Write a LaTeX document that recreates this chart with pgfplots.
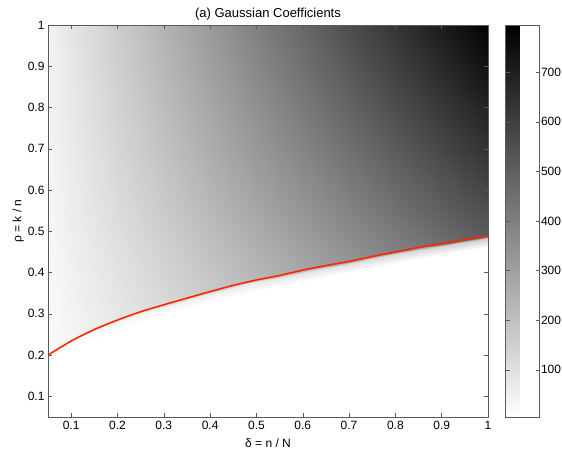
\documentclass[border=0pt]{standalone}
\usepackage{pgfplots}
\pgfplotsset{compat=1.18}
\usepackage{pgfplotstable}
\usepackage{fontspec}
\setmainfont{Liberation Sans}
\definecolor{curvered}{RGB}{250,40,0}
\definecolor{axgray}{RGB}{90,90,90}

\pgfplotstableread{
d r v
0.05 0.05 5
0.10 0.05 5
0.15 0.05 5
0.20 0.05 5
0.25 0.05 5
0.30 0.05 5
0.35 0.05 5
0.40 0.05 5
0.45 0.05 5
0.50 0.05 5
0.55 0.05 5
0.60 0.05 5
0.65 0.05 5
0.70 0.05 5
0.75 0.05 5
0.80 0.05 5
0.85 0.05 5
0.90 0.05 5
0.95 0.05 5
1.00 0.05 5

0.05 0.172 5
0.10 0.206 5
0.15 0.234 5
0.20 0.257 5
0.25 0.277 5
0.30 0.294 5
0.35 0.310 5
0.40 0.326 5
0.45 0.341 5
0.50 0.354 5
0.55 0.365 5
0.60 0.378 5
0.65 0.389 5
0.70 0.399 5
0.75 0.411 5
0.80 0.422 5
0.85 0.433 5
0.90 0.442 5
0.95 0.452 5
1.00 0.461 5

0.05 0.194 10
0.10 0.228 15
0.15 0.256 21
0.20 0.279 27
0.25 0.299 34
0.30 0.316 41
0.35 0.332 48
0.40 0.348 55
0.45 0.363 63
0.50 0.376 71
0.55 0.387 79
0.60 0.400 87
0.65 0.411 96
0.70 0.421 104
0.75 0.433 113
0.80 0.444 122
0.85 0.455 131
0.90 0.464 140
0.95 0.474 149
1.00 0.483 158

0.05 0.200 20
0.10 0.234 38
0.15 0.262 58
0.20 0.285 79
0.25 0.305 101
0.30 0.322 124
0.35 0.338 148
0.40 0.354 173
0.45 0.369 199
0.50 0.382 225
0.55 0.393 252
0.60 0.406 279
0.65 0.417 307
0.70 0.427 335
0.75 0.439 364
0.80 0.450 394
0.85 0.461 424
0.90 0.470 454
0.95 0.480 485
1.00 0.489 516

0.05 0.55 32
0.10 0.55 60
0.15 0.55 87
0.20 0.55 115
0.25 0.55 142
0.30 0.55 170
0.35 0.55 197
0.40 0.55 224
0.45 0.55 252
0.50 0.55 279
0.55 0.55 307
0.60 0.55 334
0.65 0.55 361
0.70 0.55 389
0.75 0.55 416
0.80 0.55 444
0.85 0.55 471
0.90 0.55 499
0.95 0.55 526
1.00 0.55 553

0.05 0.70 37
0.10 0.70 68
0.15 0.70 100
0.20 0.70 132
0.25 0.70 163
0.30 0.70 195
0.35 0.70 227
0.40 0.70 259
0.45 0.70 290
0.50 0.70 322
0.55 0.70 354
0.60 0.70 385
0.65 0.70 417
0.70 0.70 449
0.75 0.70 480
0.80 0.70 512
0.85 0.70 544
0.90 0.70 575
0.95 0.70 607
1.00 0.70 639

0.05 0.85 41
0.10 0.85 76
0.15 0.85 112
0.20 0.85 147
0.25 0.85 183
0.30 0.85 219
0.35 0.85 254
0.40 0.85 290
0.45 0.85 325
0.50 0.85 361
0.55 0.85 397
0.60 0.85 432
0.65 0.85 468
0.70 0.85 503
0.75 0.85 539
0.80 0.85 575
0.85 0.85 610
0.90 0.85 646
0.95 0.85 681
1.00 0.85 717

0.05 1.00 44
0.10 1.00 84
0.15 1.00 123
0.20 1.00 162
0.25 1.00 201
0.30 1.00 241
0.35 1.00 280
0.40 1.00 319
0.45 1.00 358
0.50 1.00 398
0.55 1.00 437
0.60 1.00 476
0.65 1.00 515
0.70 1.00 555
0.75 1.00 594
0.80 1.00 633
0.85 1.00 672
0.90 1.00 712
0.95 1.00 751
1.00 1.00 790
}\surfdata

\pgfplotstableread{
d r
0.05 0.200
0.10 0.234
0.15 0.262
0.20 0.285
0.25 0.305
0.30 0.322
0.35 0.338
0.40 0.354
0.45 0.369
0.50 0.382
0.55 0.393
0.60 0.406
0.65 0.417
0.70 0.427
0.75 0.439
0.80 0.450
0.85 0.461
0.90 0.470
0.95 0.480
1.00 0.489
}\curvedata

\begin{document}
\begin{tikzpicture}
\begin{axis}[
  name=ax,
  scale only axis,
  width=440pt, height=392pt,
  xmin=0.05, xmax=1, ymin=0.05, ymax=1,
  xtick={0.1,0.2,0.3,0.4,0.5,0.6,0.7,0.8,0.9,1},
  xticklabels={0.1,0.2,0.3,0.4,0.5,0.6,0.7,0.8,0.9,1},
  ytick={0.1,0.2,0.3,0.4,0.5,0.6,0.7,0.8,0.9,1},
  yticklabels={0.1,0.2,0.3,0.4,0.5,0.6,0.7,0.8,0.9,1},
  tick align=inside,
  major tick length=4pt,
  tick style={axgray, line width=0.4pt},
  axis line style={axgray, line width=0.5pt},
  axis on top,
  /pgf/number format/assume math mode=true,
  tick label style={font=\fontsize{12}{14}\selectfont, text=black},
  label style={font=\fontsize{12}{14}\selectfont},
  title style={font=\fontsize{13}{15}\selectfont, yshift=-5pt},
  title={(a) Gaussian Coefficients},
  xlabel={δ = n / N},
  ylabel={ρ = k / n},
  xlabel style={yshift=-2pt},
  ylabel style={yshift=-3pt},
  xticklabel style={yshift=-1pt},
  colormap={gw}{color=(white) color=(black)},
  point meta min=5, point meta max=795,
  colorbar,
  colorbar style={
    at={(parent axis.north east)}, anchor=north west, xshift=9pt,
    width=34pt,
    ytick={100,200,300,400,500,600,700},
    yticklabel pos=right,
    tick align=inside,
    major tick length=4pt,
    tick style={axgray, line width=0.4pt},
    axis line style={axgray, line width=0.5pt},
    /pgf/number format/assume math mode=true,
    yticklabel style={font=\fontsize{12}{14}\selectfont, xshift=-2pt},
  },
]
\addplot[surf, shader=interp, mesh/cols=20, mesh/rows=8, point meta=explicit]
  table[x=d, y=r, meta=v] {\surfdata};
\addplot[curvered, line width=1.6pt, smooth] table[x=d, y=r] {\curvedata};
\end{axis}
\pgfresetboundingbox
\path ([xshift=-48pt,yshift=-33pt]ax.south west) rectangle ++(562pt,450pt);
\end{tikzpicture}
\end{document}
